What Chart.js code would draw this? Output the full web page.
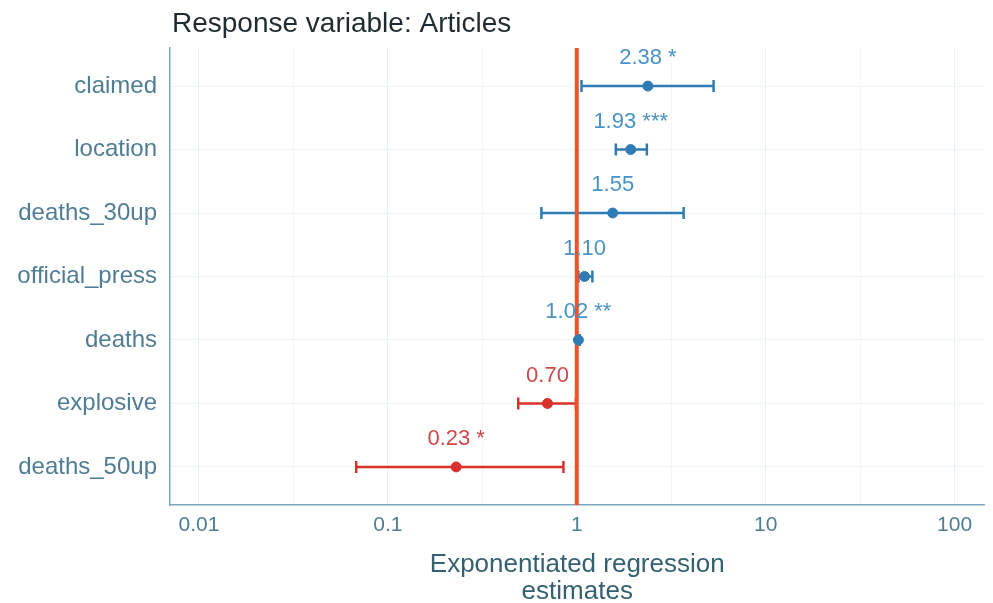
<!DOCTYPE html>
<html>
<head>
<meta charset="utf-8">
<script src="https://cdn.jsdelivr.net/npm/chart.js@4.4.1/dist/chart.umd.min.js"></script>
<style>
  html,body{margin:0;padding:0;background:#fff;overflow:hidden;}
  #wrap{width:993px;height:603px;}
  canvas{display:block;}
</style>
</head>
<body>
<div id="wrap"><canvas id="c" width="993" height="603"></canvas></div>
<script>
const categories = ['claimed','location','deaths_30up','official_press','deaths','explosive','deaths_50up'];
const estimates  = [2.38, 1.93, 1.55, 1.10, 1.02, 0.70, 0.23];
const ciLow      = [1.06, 1.61, 0.65, 1.02, 1.005, 0.49, 0.068];
const ciHigh     = [5.30, 2.35, 3.68, 1.21, 1.035, 0.99, 0.85];
const valueLabels = ['2.38 *','1.93 ***','1.55','1.10','1.02 **','0.70','0.23 *'];
const xTicks = [0.01, 0.1, 1, 10, 100];
const titleText = 'Response variable: Articles';
const xTitle = ['Exponentiated regression','estimates'];

const FONT = '"Liberation Sans", Arial, sans-serif';
const BLUE = '#2f7bb6', RED = '#d9302c';
const BLUE_T = '#4892c8', RED_T = '#d04848';
const colorOf = v => v >= 1 ? BLUE : RED;
const textColorOf = v => v >= 1 ? BLUE_T : RED_T;

const datasets = [];
categories.forEach((c, i) => {
  datasets.push({
    type: 'line',
    data: [{x: ciLow[i], y: i}, {x: ciHigh[i], y: i}],
    borderColor: colorOf(estimates[i]),
    backgroundColor: colorOf(estimates[i]),
    borderWidth: 2.5,
    pointStyle: 'line',
    rotation: 90,
    pointRadius: 6,
    pointBorderWidth: 2.5,
    pointBorderColor: colorOf(estimates[i]),
    order: 3
  });
});
datasets.push({
  type: 'line',
  data: [{x: 1, y: -0.6}, {x: 1, y: 6.6}],
  borderColor: '#f2502a',
  borderWidth: 4,
  pointRadius: 0,
  order: 2
});
datasets.push({
  type: 'scatter',
  data: estimates.map((v, i) => ({x: v, y: i})),
  backgroundColor: estimates.map(colorOf),
  borderColor: estimates.map(colorOf),
  pointRadius: 5,
  order: 1
});

const minorTicks = [];
for (let k = 0; k < xTicks.length - 1; k++) minorTicks.push(Math.sqrt(xTicks[k] * xTicks[k + 1]));

const extras = {
  id: 'extras',
  afterDatasetsDraw(chart) {
    const ctx = chart.ctx;
    const xs = chart.scales.x, ys = chart.scales.y;
    ctx.save();
    ctx.font = '22px ' + FONT;
    ctx.textAlign = 'center';
    ctx.textBaseline = 'middle';
    estimates.forEach((v, i) => {
      ctx.fillStyle = textColorOf(v);
      ctx.fillText(valueLabels[i], xs.getPixelForValue(v), ys.getPixelForValue(i) - 28);
    });
    ctx.fillStyle = '#1f2b30';
    ctx.font = '28px ' + FONT;
    ctx.textAlign = 'left';
    ctx.textBaseline = 'alphabetic';
    ctx.fillText(titleText, chart.chartArea.left + 2, 32);
    ctx.restore();
  }
};

new Chart(document.getElementById('c'), {
  data: { datasets },
  plugins: [extras],
  options: {
    responsive: false,
    animation: false,
    layout: { padding: { top: 48, right: 2, left: 0, bottom: 0 } },
    plugins: { legend: { display: false }, tooltip: { enabled: false }, title: { display: false } },
    scales: {
      x: {
        type: 'logarithmic',
        min: 0.00703,
        max: 144,
        afterBuildTicks(scale) {
          const all = xTicks.concat(minorTicks).sort((a, b) => a - b);
          scale.ticks = all.map(v => ({ value: v, major: xTicks.includes(v) }));
        },
        afterFit(scale) { scale.height = 98; scale.paddingLeft = 0; scale.paddingRight = 0; },
        ticks: {
          autoSkip: false,
          maxRotation: 0,
          padding: 8,
          color: '#4f7d94',
          font: { size: 21, family: FONT },
          callback: (v) => xTicks.includes(v) ? String(v) : ''
        },
        grid: {
          drawTicks: false,
          color: ctx => (ctx.tick && xTicks.includes(ctx.tick.value)) ? '#e8eff5' : '#f2f6f9',
          lineWidth: 1
        },
        border: { display: true, color: '#7ea6c0', width: 1.5 },
        title: {
          display: true,
          text: xTitle,
          color: '#35606f',
          font: { size: 26, family: FONT, lineHeight: 1.04 },
          padding: { top: 0, bottom: -2 }
        }
      },
      y: {
        type: 'linear',
        reverse: true,
        min: -0.6,
        max: 6.6,
        afterBuildTicks(scale) {
          scale.ticks = categories.map((c, i) => ({ value: i }));
        },
        afterFit(scale) { scale.width = 170; },
        ticks: {
          autoSkip: false,
          padding: 13,
          color: '#4f7d94',
          font: { size: 24, family: FONT },
          callback: (v) => categories[v] !== undefined ? categories[v] : ''
        },
        grid: { drawTicks: false, color: '#eef3f7', lineWidth: 1 },
        border: { display: true, color: '#7ea6c0', width: 1.5 }
      }
    }
  }
});
</script>
</body>
</html>
